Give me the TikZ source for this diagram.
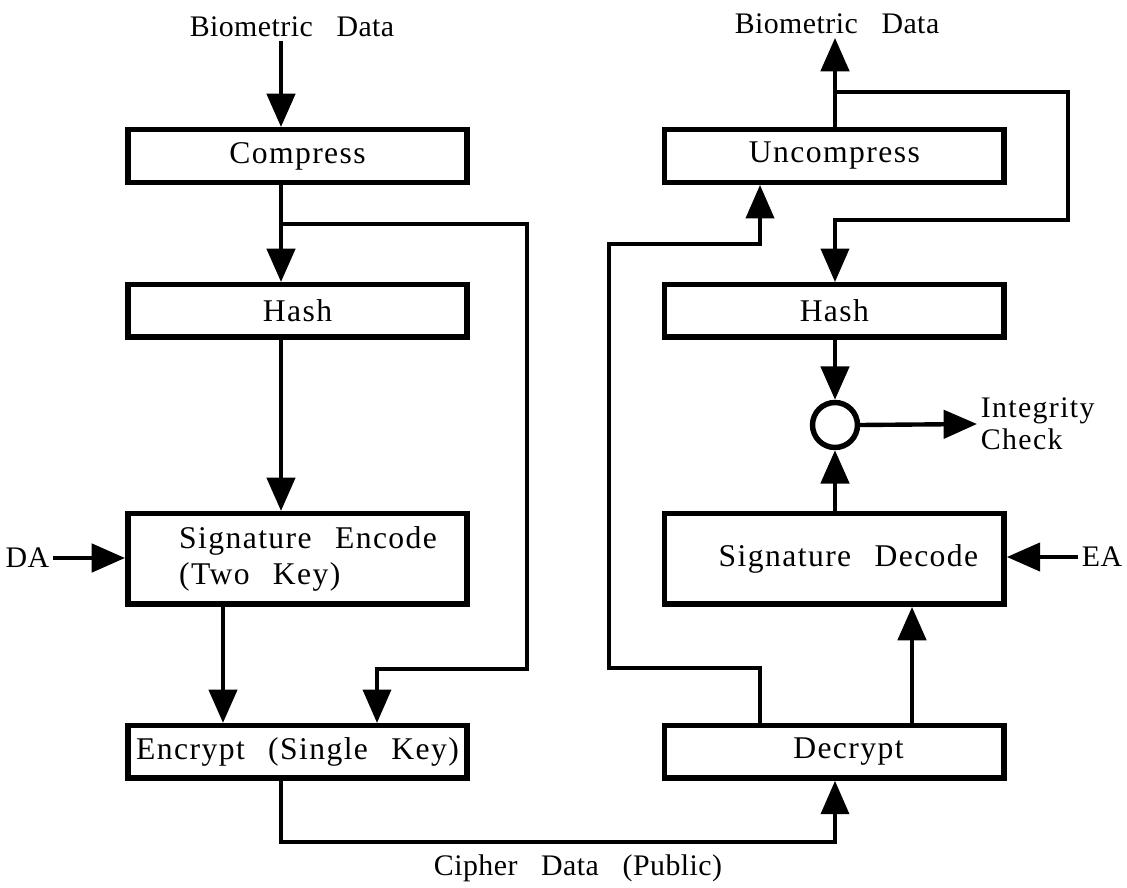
\documentclass[tikz,border=0pt]{standalone}
\usepackage{fontspec}
\setmainfont{Liberation Serif}
\newfontfamily\boxfont[LetterSpace=4.5,WordSpace=2.5]{Liberation Serif}
\newfontfamily\labfont[LetterSpace=1.5,WordSpace=3]{Liberation Serif}
\usetikzlibrary{arrows.meta,positioning}

\begin{document}
\begin{tikzpicture}[x=0.02cm,y=-0.02cm,
    blk/.style={draw,line width=3.1pt,minimum width=6.79cm,minimum height=1.05cm,inner sep=1pt,font=\boxfont\fontsize{18}{20}\selectfont},
    bigblk/.style={blk,minimum height=1.81cm,align=left},
    lab/.style={inner sep=2pt,font=\labfont\fontsize{17}{20}\selectfont},
    flow/.style={line width=2.5pt,-{Triangle[length=19pt,width=16pt]}},
    fb/.style={flow,line width=2pt},
    node distance=10.74cm
    ]
    \useasboundingbox (0,0) rectangle (1127,888);

    \node (comp) [blk] at (297.5,156) {Compress};
    \node (hashl) [blk,below of=comp,node distance=3.1cm] {Hash};
    \node (sigenc) [bigblk,below of=hashl,node distance=4.96cm] {\hspace*{12pt}Signature Encode\\\hspace*{12pt}(Two Key)};
    \node (enc) [blk,below of=sigenc,node distance=3.86cm] {Encrypt (Single Key)};
    \node (unc) [blk,right of=comp] {Uncompress};
    \node (hashr) [blk,right of=hashl] {Hash};
    \node (sigdec) [bigblk,right of=sigenc] {\hspace*{16pt}Signature Decode};
    \node (dec) [blk,right of=enc] {\hspace*{16pt}Decrypt};
    \node (cmp) [draw,circle,line width=3.1pt,minimum size=0.9cm,inner sep=0pt] at (835,425) {};

    \node (bdin) [lab] at (292,27) {Biometric Data};
    \node (bdout) [lab] at (837,24) {Biometric Data};
    \node (cipher) [lab] at (578,868) {Cipher Data (Public)};
    \node (da) [lab,anchor=east] at (53,558) {DA};
    \node (ea) [lab,anchor=west] at (1078,557) {EA};
    \node (integ) [lab,anchor=west,align=left,font=\boxfont\fontsize{17}{18}\selectfont] at (977,424) {Integrity\\Check};

    % columns and bends
    \coordinate (lcol) at (281,0);
    \coordinate (lsig) at (223,0);
    \coordinate (lenc) at (377,0);
    \coordinate (rcol) at (835,0);
    \coordinate (runc) at (760,0);
    \coordinate (rdec) at (912,0);
    \coordinate (lj) at (281,224);
    \coordinate (lbend) at (527,669);
    \coordinate (rj) at (835,92);
    \coordinate (rbend) at (1068,220);
    \coordinate (rlo) at (609,668);
    \coordinate (rhi) at (609,244);
    \coordinate (cline) at (560,842);

    % the edges
    \draw[flow] (bdin.south -| lcol) -- (comp.north -| lcol);
    \draw[flow] (comp.south -| lcol) -- (hashl.north -| lcol);
    \draw[fb] (lj) -| (lbend) -| (enc.north -| lenc);
    \draw[flow] (hashl.south -| lcol) -- (sigenc.north -| lcol);
    \draw[flow] (da.east) -- (sigenc.west |- da.east);
    \draw[flow] (sigenc.south -| lsig) -- (enc.north -| lsig);
    \draw[fb] (enc.south -| lcol) |- (cline) -| (dec.south -| rcol);
    \draw[flow] (dec.north -| rdec) -- (sigdec.south -| rdec);
    \draw[fb] (dec.north -| runc) |- (rlo) -- (rhi) -| (unc.south -| runc);
    \draw[flow] (unc.north -| rcol) -- (bdout.south -| rcol);
    \draw[fb] (rj) -| (rbend) -| (hashr.north -| rcol);
    \draw[flow] (hashr.south -| rcol) -- (cmp.north);
    \draw[flow] (sigdec.north -| rcol) -- (cmp.south);
    \draw[flow] (cmp.east) -- (integ.west);
    \draw[flow] (ea.west) -- (sigdec.east |- ea.west);
\end{tikzpicture}
\end{document}
